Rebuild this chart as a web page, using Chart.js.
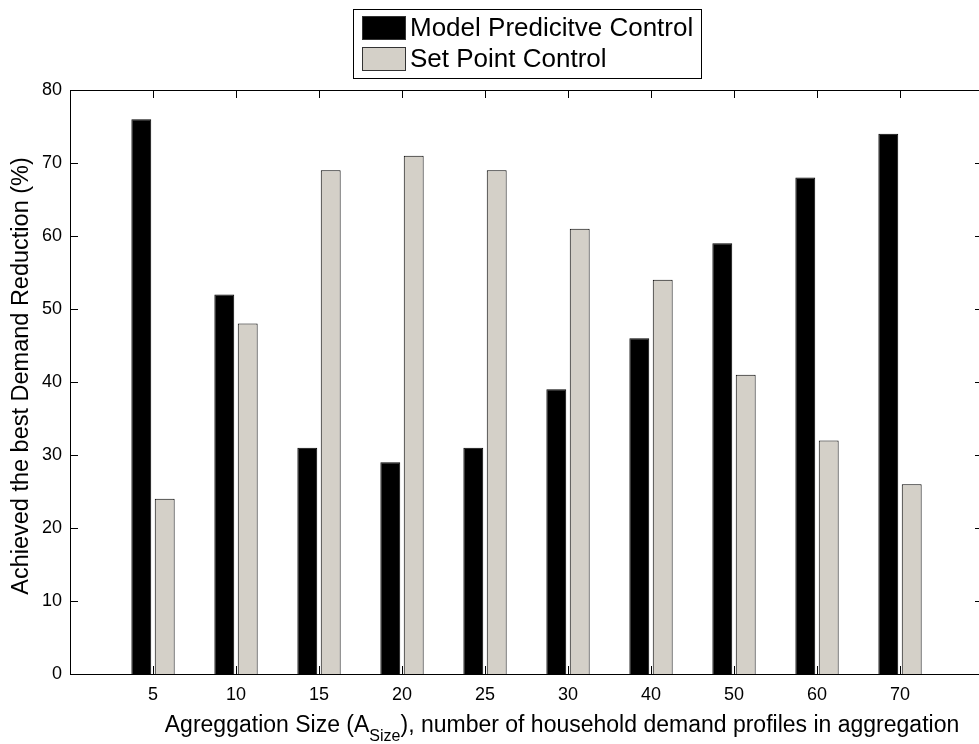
<!DOCTYPE html>
<html><head><meta charset="utf-8">
<script src="https://cdn.jsdelivr.net/npm/chart.js@4"></script>
<style>html,body{margin:0;padding:0;overflow:hidden;background:#fff}#wrap{width:1000px;height:744px;position:relative}</style>
</head><body><div id="wrap"><canvas id="c" width="1000" height="744"></canvas></div>
<script>
const categories = ['5','10','15','20','25','30','40','50','60','70'];
const mpcValues = [76,52,31,29,31,39,46,59,68,74];
const spcValues = [24,48,69,71,69,61,54,41,32,26];
const yTicks = [0,10,20,30,40,50,60,70,80];
const seriesNames = ['Model Predicitve Control','Set Point Control'];
const yLabel = 'Achieved the best Demand Reduction (%)';
const xLabelParts = ['Agreggation Size (A', 'Size', '), number of household demand profiles in aggregation'];

const FONT = '"Liberation Sans", Arial, Helvetica, sans-serif';
const labels = ['', ...categories, ''];
const pad = a => [null, ...a, null];

const framePlugin = {
  id: 'frame',
  afterDatasetsDraw(chart) {
    const {ctx, chartArea: a, scales: {x, y}} = chart;
    ctx.save();
    ctx.strokeStyle = '#000';
    ctx.lineWidth = 1;
    ctx.beginPath();
    for (let i = 1; i <= categories.length; i++) {
      const px = Math.round(x.getPixelForValue(i)) + 0.5;
      ctx.moveTo(px, a.bottom); ctx.lineTo(px, a.bottom - 8);
      ctx.moveTo(px, a.top); ctx.lineTo(px, a.top + 8);
    }
    yTicks.forEach(v => {
      const py = Math.round(y.getPixelForValue(v)) + 0.5;
      ctx.moveTo(a.left, py); ctx.lineTo(a.left + 8, py);
      ctx.moveTo(a.right, py); ctx.lineTo(a.right - 8, py);
    });
    ctx.stroke();
    ctx.strokeRect(Math.round(a.left) + 0.5, Math.round(a.top) + 0.5, Math.round(a.right - a.left), Math.round(a.bottom - a.top));
    ctx.restore();
  },
  afterDraw(chart) {
    const {ctx} = chart;
    ctx.save();
    ctx.fillStyle = '#000';
    // y label
    ctx.font = '23.5px ' + FONT;
    ctx.textAlign = 'center';
    ctx.textBaseline = 'middle';
    ctx.translate(22, 376);
    ctx.rotate(-Math.PI / 2);
    ctx.fillText(yLabel, 0, 0);
    ctx.setTransform(1, 0, 0, 1, 0, 0);
    // x label with subscript
    const big = '23px ' + FONT, small = '16px ' + FONT;
    ctx.textAlign = 'left';
    ctx.textBaseline = 'alphabetic';
    ctx.font = big; const w0 = ctx.measureText(xLabelParts[0]).width; const w2 = ctx.measureText(xLabelParts[2]).width;
    ctx.font = small; const w1 = ctx.measureText(xLabelParts[1]).width;
    let xs = 562 - (w0 + w1 + w2) / 2;
    const base = 732;
    ctx.font = big; ctx.fillText(xLabelParts[0], xs, base); xs += w0;
    ctx.font = small; ctx.fillText(xLabelParts[1], xs, base + 9); xs += w1;
    ctx.font = big; ctx.fillText(xLabelParts[2], xs, base);
    // legend
    ctx.font = '26px ' + FONT;
    const ds = chart.data.datasets;
    const tw = Math.max(...ds.map(d => ctx.measureText(d.label).width));
    const lx = 353.5, ly = 9.5, lw = Math.round(410 + tw + 8 - 353), lh = 69;
    ctx.fillStyle = '#fff'; ctx.fillRect(lx, ly, lw, lh);
    ctx.strokeStyle = '#000'; ctx.lineWidth = 1; ctx.strokeRect(lx, ly, lw, lh);
    ds.forEach((d, i) => {
      const sy = 16.5 + i * 31;
      ctx.fillStyle = d.backgroundColor; ctx.fillRect(362.5, sy, 43, 23);
      ctx.strokeStyle = '#333'; ctx.strokeRect(362.5, sy, 43, 23);
      ctx.fillStyle = '#000'; ctx.textBaseline = 'middle';
      ctx.fillText(d.label, 410, sy + 12);
    });
    ctx.restore();
  }
};

new Chart(document.getElementById('c'), {
  type: 'bar',
  data: {
    labels,
    datasets: [
      {label: seriesNames[0], data: pad(mpcValues), backgroundColor: '#000000', borderColor: '#000000', borderWidth: 1},
      {label: seriesNames[1], data: pad(spcValues), backgroundColor: '#d4d0c8', borderColor: '#000000', borderWidth: 1}
    ]
  },
  options: {
    responsive: false,
    animation: false,
    events: [],
    datasets: {bar: {categoryPercentage: 0.564, barPercentage: 0.85}},
    layout: {padding: {top: 90, right: 17, left: 0, bottom: 0}},
    plugins: {legend: {display: false}, title: {display: false}, tooltip: {enabled: false}},
    scales: {
      x: {
        type: 'category', offset: false,
        grid: {display: false, drawTicks: false}, border: {display: false},
        ticks: {autoSkip: false, maxRotation: 0, padding: 10, color: '#000', font: {family: FONT, size: 18}},
        afterFit(s) { s.height = 70; }
      },
      y: {
        min: 0, max: 80,
        grid: {display: false, drawTicks: false}, border: {display: false},
        ticks: {padding: 8, color: '#000', font: {family: FONT, size: 18}},
        afterBuildTicks(s) { s.ticks = yTicks.map(v => ({value: v})); },
        afterFit(s) { s.width = 70; }
      }
    }
  },
  plugins: [framePlugin]
});
</script></body></html>
